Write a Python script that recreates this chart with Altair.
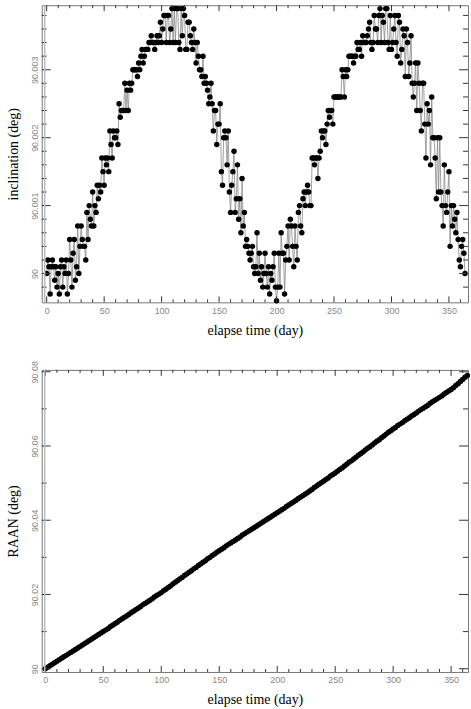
import altair as alt
import pandas as pd

# ---------------- data ----------------
# inclination, one sample per day, in units of 1e-4 deg above 90 deg
incl_day = list(range(0, 365))
incl_e4 = [
    0, 2, 1, -3, 1, 2, 1, -1, 1, -2, 0, -3, 1, 2, -2, 1, 0, 2, -3, 0,
    5, 2, -2, 3, 5, -1, 1, 7, 0, 4, 7, 5, 4, 4, 2, 9, 5, 10, 8, 7,
    12, 7, 10, 9, 13, 11, 13, 12, 17, 15, 13, 17, 16, 17, 15, 21, 19, 17, 21, 20,
    20, 21, 19, 25, 23, 24, 24, 24, 28, 24, 27, 24, 28, 27, 28, 30, 30, 30, 30, 29,
    31, 30, 32, 33, 31, 32, 33, 33, 33, 34, 34, 35, 34, 34, 33, 34, 35, 34, 35, 37,
    34, 36, 38, 38, 34, 38, 38, 34, 36, 39, 34, 39, 34, 39, 39, 34, 33, 39, 35, 39,
    38, 33, 33, 37, 37, 35, 34, 33, 36, 34, 31, 34, 32, 30, 30, 29, 32, 28, 29, 28,
    27, 25, 26, 28, 25, 21, 24, 24, 19, 22, 22, 25, 15, 13, 20, 21, 20, 16, 21, 12,
    9, 13, 15, 18, 9, 11, 16, 8, 11, 6, 14, 7, 9, 4, 5, 4, 3, 2, 3, 4,
    1, 0, 1, 6, 0, 3, -1, 1, -2, 0, 3, 0, -2, 1, -3, 0, -1, 1, 3, -2,
    -4, -2, 3, -2, 6, 3, 3, -3, 2, 4, 7, 2, 8, 7, 4, 1, 7, 4, 2, 9,
    10, 7, 6, 11, 12, 10, 12, 13, 12, 10, 10, 17, 17, 16, 17, 17, 14, 17, 18, 21,
    20, 21, 21, 19, 22, 24, 23, 24, 24, 22, 26, 26, 26, 26, 26, 26, 26, 30, 29, 26,
    30, 29, 30, 32, 32, 32, 32, 31, 32, 32, 34, 33, 33, 34, 32, 35, 34, 34, 34, 35,
    36, 37, 34, 33, 34, 38, 36, 36, 34, 38, 39, 34, 38, 37, 34, 39, 39, 34, 33, 38,
    33, 34, 36, 38, 34, 32, 38, 37, 31, 33, 36, 35, 29, 36, 34, 29, 31, 35, 28, 26,
    28, 31, 24, 31, 28, 24, 21, 28, 28, 22, 17, 25, 22, 24, 16, 26, 20, 20, 17, 11,
    20, 12, 20, 12, 10, 7, 16, 10, 9, 12, 15, 4, 10, 7, 10, 8, 6, 9, 5, 2,
    1, 4, 5, 3, 0,
]

# RAAN, one sample every two days, in units of 1e-4 deg above 90 deg
raan_day = list(range(0, 365, 2))
raan_e4 = [
    0, 4, 8, 12, 16, 20, 24, 28, 32, 36, 40, 44, 48, 52, 56, 60, 64, 68, 72, 76, 80, 84, 88, 92, 96,
    100, 104, 108, 113, 117, 121, 125, 130, 134, 138, 142, 146, 151, 155, 159, 163, 167, 172, 176, 180, 184, 188, 193, 197, 201,
    205, 210, 214, 219, 223, 228, 233, 237, 242, 246, 251, 255, 260,
    264, 269, 273, 278, 282, 287, 291, 296, 300, 305, 309, 314,
    318, 322, 326, 331, 335, 339, 343, 347, 351, 355, 360, 364, 368,
    372, 376, 380, 384, 388, 392, 396, 400, 404, 408, 412, 416,
    420, 424, 428, 432, 437, 441, 445, 449, 453, 458, 462, 466, 470,
    474, 479, 483, 488, 492, 497, 501, 505, 510, 514, 519, 523,
    527, 532, 537, 541, 546, 551, 556, 560, 565, 570, 575, 579, 584,
    589, 594, 598, 603, 608, 613, 617, 622, 627, 632, 637, 641,
    646, 650, 655, 659, 663, 668, 672, 676, 681, 685, 689, 694, 698,
    702, 706, 710, 715, 719, 723, 727, 731, 735, 740, 744, 748,
    752, 757, 763, 768, 774, 779, 785, 790,
]

x_labels = [0, 50, 100, 150, 200, 250, 300, 350]
x_minor = [10, 20, 30, 40, 60, 70, 80, 90, 110, 120, 130, 140, 160, 170, 180, 190,
           210, 220, 230, 240, 260, 270, 280, 290, 310, 320, 330, 340, 360]

incl_major = [90.0, 90.001, 90.002, 90.003]
incl_minor = [89.9998, 90.0002, 90.0004, 90.0006, 90.0008, 90.0012, 90.0014, 90.0016,
              90.0018, 90.0022, 90.0024, 90.0026, 90.0028, 90.0032, 90.0034,
              90.0036, 90.0038]
raan_major = [90.0, 90.02, 90.04, 90.06, 90.08]
raan_minor = [90.01, 90.03, 90.05, 90.07]

incl_df = pd.DataFrame({"day": incl_day, "val": [90 + v * 1e-4 for v in incl_e4]})
raan_df = pd.DataFrame({"day": raan_day, "val": [90 + v * 1e-4 for v in raan_e4]})

W = 429
SERIF = "Liberation Serif"
SANS = "Liberation Sans"


def panel(df, xdom, ydom, ymajor, yminor, ytitle, yfmt, H):
    xs = alt.Scale(domain=xdom, nice=False, zero=False)
    ys = alt.Scale(domain=ydom, nice=False, zero=False)
    xaxis = alt.Axis(values=x_labels, ticks=False, domain=False, grid=False,
                     labelFont=SANS, labelFontSize=9, labelColor="#888",
                     labelPadding=4, title="elapse time (day)", titleFont=SERIF,
                     titleFontSize=14, titleFontWeight="normal", titleColor="black",
                     titlePadding=8)
    yaxis = alt.Axis(values=ymajor, ticks=False, domain=False, grid=False,
                     labelFont=SANS, labelFontSize=9, labelColor="#888",
                     labelAngle=270, labelAlign="center", labelBaseline="bottom",
                     labelPadding=2,
                     labelExpr="abs(datum.value - 90) < 1e-9 ? '90' : format(datum.value, '" + yfmt + "')",
                     title=ytitle, titleFont=SERIF, titleFontSize=14,
                     titleFontWeight="normal", titleColor="black", titlePadding=10)
    X = lambda f: alt.X(f, scale=xs, axis=xaxis)
    Y = lambda f: alt.Y(f, scale=ys, axis=yaxis)
    base = alt.Chart(df)
    line = base.mark_line(color="#888", strokeWidth=0.8).encode(
        x=X("day:Q"), y=Y("val:Q"))
    pts = base.mark_point(filled=True, shape="circle", color="black", size=30,
                          opacity=1).encode(x=X("day:Q"), y=Y("val:Q"))
    layers = [line, pts]

    def xt(vals, top, length):
        c = alt.Chart(pd.DataFrame({"day": vals})).mark_rule(color="#333", strokeWidth=1)
        if top:
            return c.encode(x=X("day:Q"), y=alt.value(0), y2=alt.value(length))
        return c.encode(x=X("day:Q"), y=alt.value(H), y2=alt.value(H - length))

    def yt(vals, right, length):
        c = alt.Chart(pd.DataFrame({"val": vals})).mark_rule(color="#333", strokeWidth=1)
        if right:
            return c.encode(y=Y("val:Q"), x=alt.value(W), x2=alt.value(W - length))
        return c.encode(y=Y("val:Q"), x=alt.value(0), x2=alt.value(length))

    layers += [xt(x_labels, False, 6), xt(x_minor, False, 3),
               xt(x_labels, True, 6), xt(x_minor, True, 3),
               yt(ymajor, False, 9), yt(yminor, False, 5),
               yt(ymajor, True, 9), yt(yminor, True, 5)]
    edge = alt.Chart(pd.DataFrame({"a": [0]})).mark_rule(
        color="#bbb", strokeWidth=1.5).encode(
        x=alt.value(3), y=alt.value(0), y2=alt.value(H))
    layers.append(edge)
    return alt.layer(*layers).properties(width=W, height=H)


top = panel(incl_df, [-4.3, 366.6], [89.999576, 90.00395], incl_major, incl_minor,
            "inclination (deg)", ".3f", 299)
bottom = panel(raan_df, [-3.1, 364.6], [89.99912, 90.0805], raan_major, raan_minor,
               "RAAN (deg)", ".2f", 304)

chart = alt.vconcat(top, bottom, spacing=22).properties(
    padding={"left": 6, "top": 1, "right": 0, "bottom": 0}
).configure_view(stroke="#777", strokeWidth=1)

chart.save("out.html", embed_options={"renderer": "svg", "actions": False})
